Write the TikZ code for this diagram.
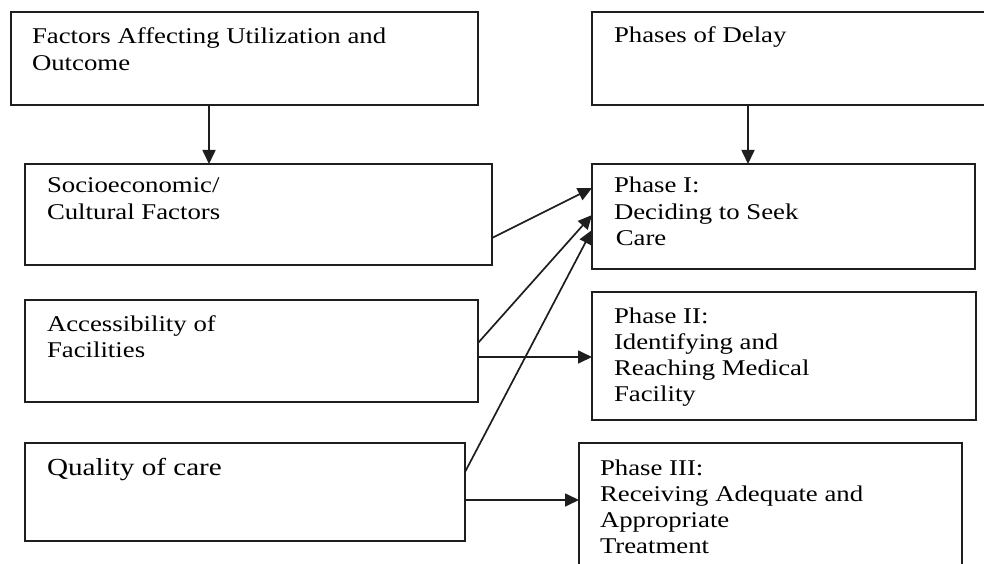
\documentclass[tikz,border=0pt]{standalone}
\usepackage{fontspec}
\setmainfont{Liberation Serif}
\usetikzlibrary{arrows.meta}
\definecolor{ink}{HTML}{1E1E1E}
% widened serif text block, baseline on its first line
\newcommand{\txtblock}[1]{\scalebox{1.19}[1]{\begin{tabular}[t]{@{}l@{}}#1\end{tabular}}}
\tikzset{
  box/.style={draw=ink, line width=1.8pt, rectangle, inner sep=0pt, outer sep=0pt},
  label/.style={anchor=base west, inner sep=0pt, outer sep=0pt,
                font=\fontsize{22.5}{26.3}\selectfont},
  arr/.style={draw=ink, line width=1.7pt, -{Triangle[length=14pt,width=13pt]}}
}
\begin{document}
\begin{tikzpicture}[x=1pt,y=-1pt]
\useasboundingbox (0,0) rectangle (984,564);
% left column: factors
\node[box, minimum width=467, minimum height=93]  (A) at (244.5,58.5) {};
\node[box, minimum width=467, minimum height=101] (B) at (258.5,214.5) {};
\node[box, minimum width=453, minimum height=102] (C) at (251.5,351) {};
\node[box, minimum width=440, minimum height=98]  (D) at (245,492) {};
% right column: phases
\node[box, minimum width=400, minimum height=93]  (E) at (792,58.5) {};
\node[box, minimum width=383, minimum height=105] (F) at (783.5,216.5) {};
\node[box, minimum width=384, minimum height=128] (G) at (784,356) {};
\node[box, minimum width=383, minimum height=140] (H) at (770.5,513) {};
% texts
\node[label] (tA) at (32,44) {\txtblock{Factors Affecting Utilization and\\Outcome}};
\node[label] (tB) at (47,193) {\txtblock{Socioeconomic/\\Cultural Factors}};
\node[label] (tC) at (47,331) {\txtblock{Accessibility of\\Facilities}};
\node[label, font=\fontsize{24.5}{28}\selectfont] (tD) at (47,475) {\txtblock{Quality of care}};
\node[label] (tE) at (614,43) {\txtblock{Phases of Delay}};
\node[label] (tF) at (614,193) {\txtblock{Phase I:\\Deciding to Seek\\\hspace{1.5pt}Care}};
\node[label] (tG) at (614,323) {\txtblock{Phase II:\\Identifying and\\Reaching Medical\\Facility}};
\node[label] (tH) at (600,475) {\txtblock{Phase III:\\Receiving Adequate and\\Appropriate\\Treatment}};
% connectors
\draw[arr] ([xshift=-35.5]A.south) -- ([xshift=-49.5]B.north);
\draw[arr] ([xshift=-44]E.south) -- ([xshift=-35.5]F.north);
\draw[arr] ([yshift=27]B.south east) -- ([yshift=81]F.south west);
\draw[arr] ([yshift=59]C.south east) -- ([yshift=54]F.south west);
\draw[arr] ([yshift=-29]D.north east) -- ([yshift=39]F.south west);
\draw[arr] ([yshift=45]C.south east) -- ([yshift=63]G.south west);
\draw[arr] ([yshift=-57]D.north east) -- ([yshift=-57]H.north west);
\end{tikzpicture}
\end{document}
